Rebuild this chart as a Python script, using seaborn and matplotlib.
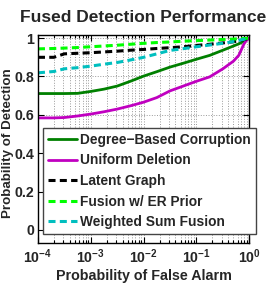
"""
Fused detection ROC curves (log false-alarm axis).
"""
import numpy as np
import pandas as pd
import matplotlib
matplotlib.use("Agg")
import matplotlib.pyplot as plt
from matplotlib.ticker import FuncFormatter, LogLocator
import seaborn as sns

# ── data ──────────────────────────────────────────────────
log_pfa = [-4, -3.7, -3.5, -3.25, -3, -2.75, -2.5, -2.25, -2, -1.75,
           -1.5, -1.25, -1, -0.75, -0.5, -0.3, -0.2, -0.1, -0.05, 0]

degree_based = [.711, .711, .711, .712, .722, .734, .750, .775, .802, .825,
                .849, .869, .890, .910, .937, .959, .970, .984, .993, 1.0]
uniform_del = [.584, .584, .586, .594, .604, .616, .630, .647, .666, .690,
               .725, .750, .775, .798, .840, .880, .910, .970, .990, 1.0]
latent_graph = [.900, .900, .918, .921, .924, .928, .932, .937, .941, .946,
                .950, .955, .962, .968, .975, .981, .986, .992, .996, 1.0]
er_prior = [.944, .946, .948, .951, .955, .959, .963, .968, .973, .977,
            .980, .984, .987, .990, .993, .995, .997, .998, .999, 1.0]
weighted_sum = [.819, .826, .840, .846, .854, .864, .873, .886, .900, .918,
                .936, .945, .955, .964, .973, .982, .988, .994, .997, 1.0]

labels = ["Degree\u2212Based Corruption", "Uniform Deletion", "Latent Graph",
          "Fusion w/ ER Prior", "Weighted Sum Fusion"]
series = [degree_based, uniform_del, latent_graph, er_prior, weighted_sum]
colors = ["#008000", "#c000c0", "black", "#00ff00", "#00bfbf"]
styles = ["-", "-", "--", "--", "--"]

# ── style ─────────────────────────────────────────────────
sns.set_style("ticks")
plt.rcParams["font.family"] = ["Liberation Sans", "DejaVu Sans"]
plt.rcParams["font.weight"] = "bold"
plt.rcParams["axes.labelweight"] = "bold"
plt.rcParams["axes.titleweight"] = "bold"
plt.rcParams["mathtext.fontset"] = "custom"
plt.rcParams["mathtext.rm"] = "Liberation Sans:bold"
plt.rcParams["mathtext.bf"] = "Liberation Sans:bold"
plt.rcParams["mathtext.default"] = "bf"

fig = plt.figure(figsize=(2.77, 2.94), dpi=100)
ax = fig.add_axes([0.137, 0.1724, 0.763, 0.709])

pfa = 10.0 ** np.array(log_pfa)
for lab, vals, c, ls in zip(labels, series, colors, styles):
    df = pd.DataFrame({"pfa": pfa, "pd": vals})
    lw = 2.0 if ls == "-" else 2.2
    sns.lineplot(data=df, x="pfa", y="pd", ax=ax, color=c, label=lab,
                 linewidth=lw, linestyle=ls)
    if ls == "--":
        ax.lines[-1].set_dashes((2.3, 1.4))

ax.set_xscale("log")
ax.set_xlim(1e-4, 1)
ax.set_ylim(-0.07, 1.017)
ax.set_yticks([0, 0.2, 0.4, 0.6, 0.8, 1.0])
ax.yaxis.set_major_formatter(FuncFormatter(lambda v, p: f"{v:g}"))
ax.xaxis.set_major_locator(LogLocator(base=10, numticks=10))
ax.xaxis.set_minor_locator(LogLocator(base=10, subs=np.arange(2, 10), numticks=10))

ax.grid(True, which="both", axis="x", ls=":", lw=0.7, color="#999999")
ax.grid(True, which="major", axis="y", ls=":", lw=0.7, color="#999999")
ax.tick_params(which="both", direction="in", top=True, right=True,
               labelsize=10.2, width=0.8, color="black", pad=2.5)
ax.tick_params(axis="x", pad=3)
ax.tick_params(which="major", length=4)
ax.tick_params(which="minor", length=2)
for s in ax.spines.values():
    s.set_linewidth(1.0)
    s.set_color("black")

ax.set_title("Fused Detection Performance", fontsize=12.5, pad=9)
ax.set_xlabel("Probability of False Alarm", fontsize=10.3, labelpad=2)
ax.set_ylabel("Probability of Detection", fontsize=9.6)
ax.yaxis.set_label_coords(-0.112, 0.48)

leg = ax.legend(loc="lower left", bbox_to_anchor=(0.024, 0.045),
                borderaxespad=0, fontsize=9.9, frameon=True, fancybox=False,
                handlelength=2.1, handletextpad=0.25, labelspacing=0.48,
                borderpad=0.35)
leg.get_frame().set_edgecolor("#444444")
leg.get_frame().set_linewidth(1.0)
leg.get_frame().set_alpha(1)

fig.savefig("out.png", dpi=100)
